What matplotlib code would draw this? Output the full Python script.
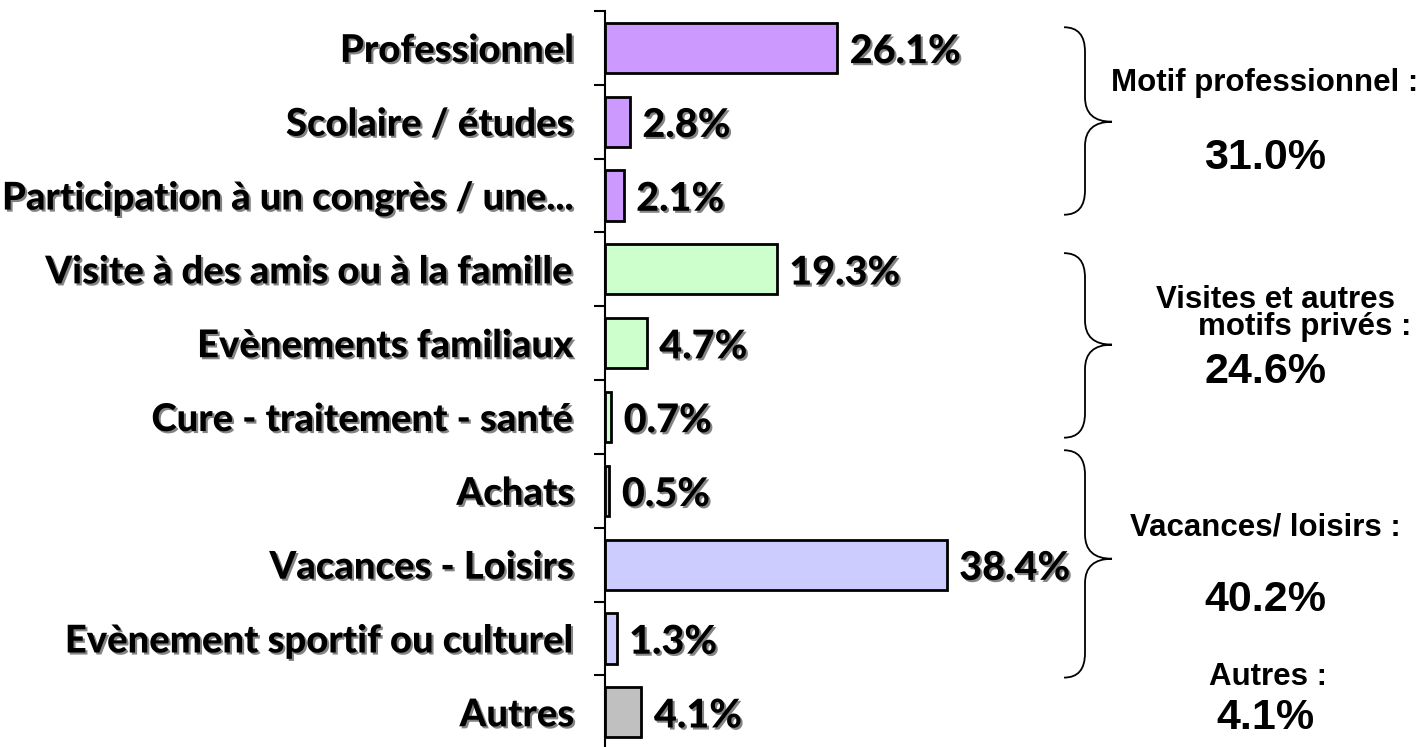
import matplotlib
matplotlib.use("Agg")
import matplotlib.pyplot as plt
from matplotlib.path import Path
from matplotlib.patches import PathPatch
import matplotlib.patheffects as pe

categories = ["Professionnel", "Scolaire / études", "Participation à un congrès / une...",
              "Visite à des amis ou à la famille", "Evènements familiaux", "Cure - traitement - santé",
              "Achats", "Vacances - Loisirs", "Evènement sportif ou culturel", "Autres"]
values = [26.1, 2.8, 2.1, 19.3, 4.7, 0.7, 0.5, 38.4, 1.3, 4.1]
colors = ["#CC99FF"] * 3 + ["#CCFFCC"] * 3 + ["#CCCCFF"] * 3 + ["#C0C0C0"]
value_labels = ["26.1%", "2.8%", "2.1%", "19.3%", "4.7%", "0.7%", "0.5%", "38.4%", "1.3%", "4.1%"]

groups = [("Motif professionnel :", "31.0%", 0, 2),
          ("Visites et autres\nmotifs privés :", "24.6%", 3, 5),
          ("Vacances/ loisirs :", "40.2%", 6, 8)]
other_label, other_value = "Autres :", "4.1%"

W, H = 1427, 747
fig = plt.figure(figsize=(W / 100, H / 100), dpi=100)
ax = fig.add_axes([605 / W, 0, (1049 - 605) / W, 736 / H])

LFONT = ["Lato", "DejaVu Sans"]
LWEIGHT = "black"
LSIZE = 27.5

y = list(range(len(categories)))
ax.barh(y, values, height=0.68, color=colors, edgecolor="black", linewidth=2.0)
ax.set_xlim(0, 49.9)
ax.set_ylim(9.47, -0.5)

for s in ["top", "right", "bottom"]:
    ax.spines[s].set_visible(False)
ax.spines["left"].set_linewidth(1.5)
ax.set_xticks([])
ax.set_yticks(y)
ax.set_yticklabels(categories)
ax.tick_params(axis="y", which="major", length=0, pad=22)
ax.set_yticks([i - 0.5 for i in range(len(categories))], minor=True)
ax.tick_params(axis="y", which="minor", length=8, width=1.5, direction="out")

shadow = [pe.SimplePatchShadow(offset=(1.5, -1.5), shadow_rgbFace="#666666", alpha=0.8), pe.Normal()]
for lab in ax.get_yticklabels():
    lab.set_fontfamily(LFONT)
    lab.set_fontweight(LWEIGHT)
    lab.set_fontsize(LSIZE)
    lab.set_path_effects(shadow)

for i, (v, t) in enumerate(zip(values, value_labels)):
    ax.text(v + 1.4, i + 0.05, t, va="center", ha="left", fontsize=28.5, fontweight=LWEIGHT,
            family=LFONT, path_effects=shadow)

def brace(ax, y0, y1, ytip, xback, xend, xtip, ry):
    verts = [(xend, y0), (xback, y0), (xback, y0 + ry), (xback, y0 + ry * 1.2),
             (xback, ytip - ry), (xback, ytip), (xtip, ytip),
             (xback, ytip), (xback, ytip + ry),
             (xback, y1 - ry * 1.2), (xback, y1 - ry), (xback, y1), (xend, y1)]
    codes = [Path.MOVETO, Path.CURVE3, Path.CURVE3, Path.LINETO,
             Path.LINETO, Path.CURVE3, Path.CURVE3,
             Path.CURVE3, Path.CURVE3,
             Path.LINETO, Path.LINETO, Path.CURVE3, Path.CURVE3]
    p = PathPatch(Path(verts, codes), fill=False, lw=1.3, edgecolor="black", clip_on=False)
    ax.add_patch(p)

def px2x(px):
    return (px - 605) / (1049 - 605) * 49.9

brace_specs = [(-0.28, 2.26, 1.0), (2.78, 5.28, 4.02), (5.45, 8.53, 6.92)]
for (y0, y1, yt) in brace_specs:
    brace(ax, y0, y1, yt, px2x(1085), px2x(1064), px2x(1112), 0.33)

fs_lab = 22.5
fs_num = 31
def ftext(px, py, s, fs, **kw):
    fig.text(px / W, 1 - py / H, s, fontsize=fs, fontweight="bold", family="Liberation Sans",
             ha="center", va="center", **kw)

ftext(1265, 83, groups[0][0], fs_lab)
ftext(1265, 158, groups[0][1], fs_num)
ftext(1275, 300, "Visites et autres", fs_lab)
ftext(1305, 327, "motifs privés :", fs_lab)
ftext(1265, 372, groups[1][1], fs_num)
ftext(1265, 527, groups[2][0], fs_lab)
ftext(1265, 600, groups[2][1], fs_num)
ftext(1268, 677, other_label, fs_lab)
ftext(1265, 718, other_value, fs_num)

fig.savefig("out.png", dpi=100)
